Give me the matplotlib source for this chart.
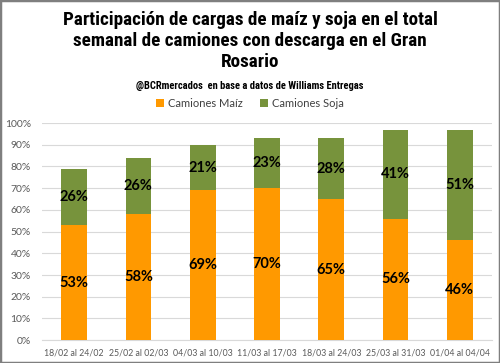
import matplotlib.pyplot as plt
from matplotlib.patches import Rectangle
from matplotlib.ticker import FuncFormatter

# Data
semanas = ["18/02 al 24/02", "25/02 al 02/03", "04/03 al 10/03", "11/03 al 17/03",
           "18/03 al 24/03", "25/03 al 31/03", "01/04 al 04/04"]
maiz = [53, 58, 69, 70, 65, 56, 46]
soja = [26, 26, 21, 23, 28, 41, 51]

col_maiz = '#FF9900'
col_soja = '#77933C'

fig = plt.figure(figsize=(5, 3.63), dpi=100)
ax = fig.add_axes([0.084, 0.063, 0.9, 0.598])

x = range(len(semanas))
ax.bar(x, maiz, width=0.4, color=col_maiz, label='Camiones Maíz', zorder=3)
ax.bar(x, soja, width=0.4, bottom=maiz, color=col_soja, label='Camiones Soja', zorder=3)

# Data labels
for i in x:
    ax.text(i, maiz[i] / 2, f'{maiz[i]}%', ha='center', va='center',
            fontsize=10.5, fontweight='bold', family='Lato', zorder=4)
    ax.text(i, maiz[i] + soja[i] / 2, f'{soja[i]}%', ha='center', va='center',
            fontsize=10.5, fontweight='bold', family='Lato', zorder=4)

ax.set_ylim(0, 100)
ax.set_xlim(-0.5, len(semanas) - 0.5)
ax.set_yticks(range(0, 101, 10))
ax.yaxis.set_major_formatter(FuncFormatter(lambda v, p: f'{v:.0f}%'))
ax.set_xticks(list(x))
ax.set_xticklabels(semanas)
ax.tick_params(axis='both', length=0, labelcolor='#595959')
ax.tick_params(axis='y', pad=8, labelsize=7.5)
ax.tick_params(axis='x', pad=6, labelsize=6.3)
for lab in ax.get_xticklabels() + ax.get_yticklabels():
    lab.set_family('Lato')
ax.grid(axis='y', color='#D9D9D9', linewidth=0.8, zorder=0)
for s in ['top', 'right', 'left']:
    ax.spines[s].set_visible(False)
ax.spines['bottom'].set_color('#D9D9D9')

leg = fig.legend(loc='center', bbox_to_anchor=(0.5, 0.716), ncol=2, frameon=False,
                 handlelength=0.7, handleheight=0.7, columnspacing=1.5, handletextpad=0.4,
                 prop={'family': 'Lato', 'size': 8})
for t in leg.get_texts():
    t.set_color('#404040')

# Titles
title_font = ['Roboto Condensed', 'Liberation Sans Narrow', 'Roboto', 'DejaVu Sans']
fig.text(0.5, 0.887, 'Participación de cargas de maíz y soja en el total\nsemanal de camiones con descarga en el Gran\nRosario',
         ha='center', va='center', fontsize=13.8, fontweight='bold', family=title_font,
         linespacing=1.2)
fig.text(0.5, 0.764, '@BCRmercados  en base a datos de Williams Entregas', ha='center', va='center',
         fontsize=7.6, fontweight='bold', family=title_font)

# Grey border
fig.patches.append(Rectangle((0, 0), 1, 1, transform=fig.transFigure, fill=False,
                             edgecolor='#7F7F7F', linewidth=2.5))

fig.savefig('out.png', dpi=100)
